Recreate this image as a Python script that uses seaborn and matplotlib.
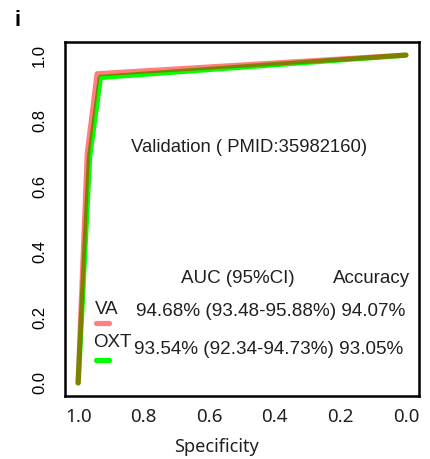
import numpy as np
import pandas as pd
import matplotlib
matplotlib.use("Agg")
import matplotlib.pyplot as plt
import seaborn as sns

# ROC noktaları (özgüllük, duyarlılık)
va_spec = [1.0, 0.972, 0.942, 0.0]
va_sens = [0.0, 0.700, 0.943, 1.0]
oxt_spec = [1.0, 0.965, 0.932, 0.0]
oxt_sens = [0.0, 0.690, 0.932, 1.0]

models = ["VA", "OXT"]
auc_text = ["94.68% (93.48-95.88%)", "93.54% (92.34-94.73%)"]
acc_text = ["94.07%", "93.05%"]
ticks = [1.0, 0.8, 0.6, 0.4, 0.2, 0.0]

sns.set_style("white")
plt.rcParams["font.family"] = ["Liberation Sans", "DejaVu Sans"]
txt = "#231f20"

df_va = pd.DataFrame({"spec": va_spec, "sens": va_sens})
df_oxt = pd.DataFrame({"spec": oxt_spec, "sens": oxt_sens})

fig = plt.figure(figsize=(4.3, 4.59), dpi=100)
ax = fig.add_axes([0.1512, 0.1373, 0.8233, 0.7712])

# önce yeşil (opak), sonra yarı saydam kırmızı -> çakışma zeytin rengi
sns.lineplot(data=df_oxt, x="spec", y="sens", sort=False, estimator=None,
             color="#00ff00", lw=3.8, ax=ax, solid_capstyle="round")
sns.lineplot(data=df_va, x="spec", y="sens", sort=False, estimator=None,
             color="#ff0000", alpha=0.5, lw=3.8, ax=ax, solid_capstyle="round")

ax.set_xlim(1.04, -0.04)
ax.set_ylim(-0.04, 1.04)
ax.set_xticks(ticks)
ax.set_yticks(ticks)
ax.set_xticklabels([f"{t:.1f}" for t in ticks], family=["Noto Sans", "DejaVu Sans"],
                   fontsize=13.5, color=txt)
ax.set_yticklabels([f"{t:.1f}" for t in ticks], rotation=90, va="center",
                   fontsize=12, color="black")
ax.tick_params(axis="x", length=5.4, width=1.2, pad=3.5, color="black")
ax.tick_params(axis="y", length=10.8, width=1.2, pad=2, color="black")
for s in ax.spines.values():
    s.set_linewidth(1.8)
    s.set_color("black")

ax.set_ylabel("")
ax.set_xlabel("Specificity", family=["Noto Sans", "DejaVu Sans"], fontsize=13, color=txt)
ax.xaxis.set_label_coords(0.427, -0.12)

ax.text(0.52, 0.701, "Validation ( PMID:35982160)", transform=ax.transAxes,
        ha="center", va="center", fontsize=13.3, color=txt)
ax.text(0.489, 0.333, "AUC (95%CI)", transform=ax.transAxes,
        ha="center", va="center", fontsize=13.5, color=txt)
ax.text(0.867, 0.333, "Accuracy", transform=ax.transAxes,
        ha="center", va="center", fontsize=13.5, color=txt)

lab_x = [0.085, 0.079]
lab_y = [0.243, 0.151]
val_x = [0.2006, 0.195]
val_y = [0.238, 0.130]
bar_y = [0.206, 0.102]
bar_col = ["#ff8080", "#00ff00"]
for i, m in enumerate(models):
    ax.text(lab_x[i], lab_y[i], m, transform=ax.transAxes, ha="left", va="center",
            fontsize=13.5, color=txt)
    ax.text(val_x[i], val_y[i], f"{auc_text[i]} {acc_text[i]}", transform=ax.transAxes,
            ha="left", va="center", fontsize=13.6, color=txt)
    ax.plot([0.087, 0.125], [bar_y[i], bar_y[i]], transform=ax.transAxes,
            color=bar_col[i], lw=3.8, solid_capstyle="round")

fig.text(0.042, 0.956, "i", fontsize=16, fontweight="bold", ha="center", va="center",
         color="black")

fig.savefig("out.png", dpi=100)
